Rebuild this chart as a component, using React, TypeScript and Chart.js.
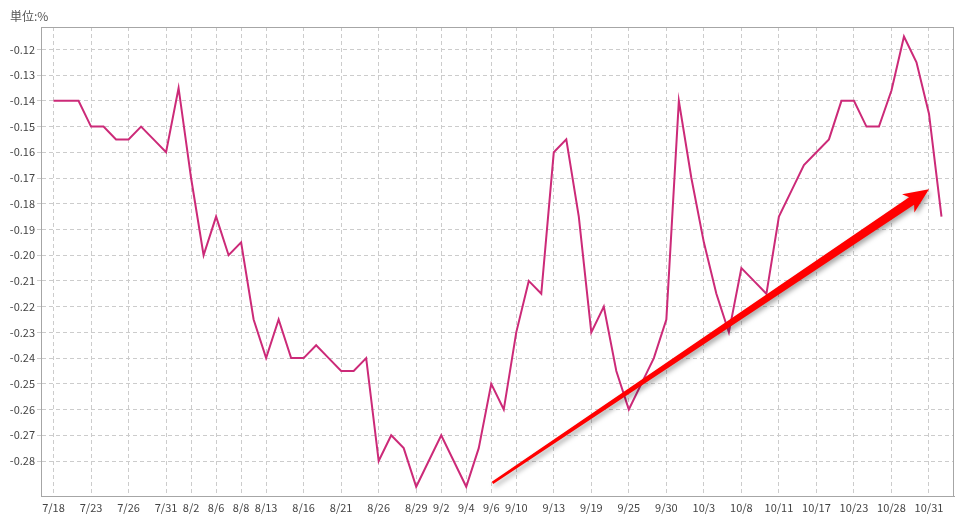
import React, { useEffect, useRef } from "react";
import { Chart, registerables } from "chart.js";

Chart.register(...registerables);

const dates = [
  "7/18", "7/19", "7/22", "7/23", "7/24", "7/25", "7/26", "7/29", "7/30", "7/31",
  "8/1", "8/2", "8/5", "8/6", "8/7", "8/8", "8/9", "8/13", "8/14", "8/15",
  "8/16", "8/19", "8/20", "8/21", "8/22", "8/23", "8/26", "8/27", "8/28", "8/29",
  "8/30", "9/2", "9/3", "9/4", "9/5", "9/6", "9/9", "9/10", "9/11", "9/12",
  "9/13", "9/17", "9/18", "9/19", "9/20", "9/24", "9/25", "9/26", "9/27", "9/30",
  "10/1", "10/2", "10/3", "10/4", "10/7", "10/8", "10/9", "10/10", "10/11", "10/15",
  "10/16", "10/17", "10/18", "10/21", "10/23", "10/24", "10/25", "10/28", "10/29", "10/30",
  "10/31", "11/1",
];

const values = [
  -0.14, -0.14, -0.14, -0.15, -0.15, -0.155, -0.155, -0.15, -0.155, -0.16,
  -0.135, -0.17, -0.2, -0.185, -0.2, -0.195, -0.225, -0.24, -0.225, -0.24,
  -0.24, -0.235, -0.24, -0.245, -0.245, -0.24, -0.28, -0.27, -0.275, -0.29,
  -0.28, -0.27, -0.28, -0.29, -0.275, -0.25, -0.26, -0.23, -0.21, -0.215,
  -0.16, -0.155, -0.185, -0.23, -0.22, -0.245, -0.26, -0.25, -0.24, -0.225,
  -0.14, -0.17, -0.195, -0.215, -0.23, -0.205, -0.21, -0.215, -0.185, -0.175,
  -0.165, -0.16, -0.155, -0.14, -0.14, -0.15, -0.15, -0.136, -0.115, -0.125,
  -0.145, -0.185,
];

const xTickLabels = [
  "7/18", "7/23", "7/26", "7/31", "8/2", "8/6", "8/8", "8/13", "8/16", "8/21",
  "8/26", "8/29", "9/2", "9/4", "9/6", "9/10", "9/13", "9/19", "9/25", "9/30",
  "10/3", "10/8", "10/11", "10/17", "10/23", "10/28", "10/31",
];

const yTicks = [
  -0.12, -0.13, -0.14, -0.15, -0.16, -0.17, -0.18, -0.19, -0.2, -0.21,
  -0.22, -0.23, -0.24, -0.25, -0.26, -0.27, -0.28,
];

// arrow annotation in data coordinates [index, value]
const arrowFrom = [35.1, -0.2885];
const arrowTo = [70.0, -0.1744];

const unitLabel = "単位:%";

const FONT = "'Noto Sans CJK JP', 'DejaVu Sans', sans-serif";

export default function App() {
  const ref = useRef<HTMLCanvasElement | null>(null);

  useEffect(() => {
    document.body.style.margin = "0";
    const canvas = ref.current;
    if (!canvas) return;

    const tickIdx = xTickLabels.map((l) => dates.indexOf(l));

    const arrowPlugin = {
      id: "arrowPlugin",
      afterDatasetsDraw(chart: any) {
        const { ctx, scales } = chart;
        const x0 = scales.x.getPixelForValue(arrowFrom[0]);
        const y0 = scales.y.getPixelForValue(arrowFrom[1]);
        const x1 = scales.x.getPixelForValue(arrowTo[0]);
        const y1 = scales.y.getPixelForValue(arrowTo[1]);
        const dx = x1 - x0;
        const dy = y1 - y0;
        const len = Math.hypot(dx, dy);
        const ux = dx / len;
        const uy = dy / len;
        const nx = -uy;
        const ny = ux;
        const headLen = 25;
        const headHalf = 11;
        const baseBack = 21;
        const w0 = 1.3;
        const w1 = 4.5;
        const bx = x1 - ux * baseBack;
        const by = y1 - uy * baseBack;
        const wx = x1 - ux * headLen;
        const wy = y1 - uy * headLen;
        ctx.save();
        ctx.shadowColor = "rgba(0,0,0,0.35)";
        ctx.shadowBlur = 5;
        ctx.shadowOffsetX = 2;
        ctx.shadowOffsetY = 3;
        ctx.fillStyle = "#ff0000";
        ctx.beginPath();
        ctx.moveTo(x0 + nx * w0, y0 + ny * w0);
        ctx.lineTo(bx + nx * w1, by + ny * w1);
        ctx.lineTo(wx + nx * headHalf, wy + ny * headHalf);
        ctx.lineTo(x1, y1);
        ctx.lineTo(wx - nx * headHalf, wy - ny * headHalf);
        ctx.lineTo(bx - nx * w1, by - ny * w1);
        ctx.lineTo(x0 - nx * w0, y0 - ny * w0);
        ctx.closePath();
        ctx.fill();
        ctx.restore();
      },
    };

    const unitPlugin = {
      id: "unitPlugin",
      afterDraw(chart: any) {
        const { ctx, chartArea } = chart;
        ctx.save();
        ctx.font = `12px ${FONT}`;
        ctx.fillStyle = "#555";
        ctx.textAlign = "left";
        ctx.textBaseline = "middle";
        ctx.fillText(unitLabel, chartArea.left - 31, chartArea.top - 11);
        ctx.restore();
      },
    };

    const chart = new Chart(canvas, {
      type: "line",
      data: {
        datasets: [
          {
            data: values.map((v, i) => ({ x: i, y: v })),
            borderColor: "#cc2a78",
            borderWidth: 2,
            pointRadius: 0,
            tension: 0,
            fill: false,
          },
        ],
      },
      options: {
        animation: false,
        responsive: false,
        layout: { padding: { top: 27, right: 18, left: 0, bottom: 0 } },
        plugins: {
          legend: { display: false },
          tooltip: { enabled: false },
          title: { display: false },
        },
        scales: {
          x: {
            type: "linear",
            min: -1,
            max: 72,
            afterBuildTicks(scale: any) {
              scale.ticks = tickIdx.map((v) => ({ value: v }));
            },
            afterFit(scale: any) {
              scale.height = 31;
            },
            ticks: {
              autoSkip: false,
              maxRotation: 0,
              padding: 5,
              color: "#444",
              font: { family: FONT, size: 11 },
              callback: (v: any) => dates[Math.round(Number(v))] ?? "",
            },
            grid: {
              color: "#cccccc",
              lineWidth: 1,
              drawTicks: false,
            },
            border: { display: true, color: "#a6a6a6", width: 1, dash: [4, 3] as any },
          } as any,
          y: {
            min: -0.2936,
            max: -0.1113,
            afterBuildTicks(scale: any) {
              scale.ticks = yTicks.map((v) => ({ value: v }));
            },
            afterFit(scale: any) {
              scale.width = 41;
            },
            ticks: {
              padding: 2,
              color: "#444",
              font: { family: FONT, size: 11 },
              callback: (v: any) => Number(v).toFixed(2),
            },
            grid: {
              color: "#cccccc",
              lineWidth: 1,
              tickLength: 4,
              tickBorderDash: [4, 3],
            },
            border: { display: true, color: "#a6a6a6", width: 1 },
          } as any,
        },
      },
      plugins: [
        arrowPlugin,
        unitPlugin,
        {
          id: "frame",
          beforeDatasetsDraw(chart: any) {
            const { ctx, chartArea } = chart;
            ctx.save();
            ctx.strokeStyle = "#a6a6a6";
            ctx.lineWidth = 1;
            ctx.strokeRect(
              Math.round(chartArea.left) + 0.5,
              Math.round(chartArea.top) + 0.5,
              Math.round(chartArea.right - chartArea.left) - 1,
              Math.round(chartArea.bottom - chartArea.top)
            );
            ctx.restore();
          },
        },
      ],
    } as any);

    // dashed grid lines
    const opts: any = chart.options.scales;
    opts.x.border.dash = [4, 3];
    opts.y.border.dash = [4, 3];
    chart.update();

    return () => chart.destroy();
  }, []);

  return (
    <div style={{ position: "fixed", left: 0, top: 0, width: 972, height: 527, background: "#fff" }}>
      <canvas ref={ref} width={972} height={527} style={{ display: "block" }} />
    </div>
  );
}
